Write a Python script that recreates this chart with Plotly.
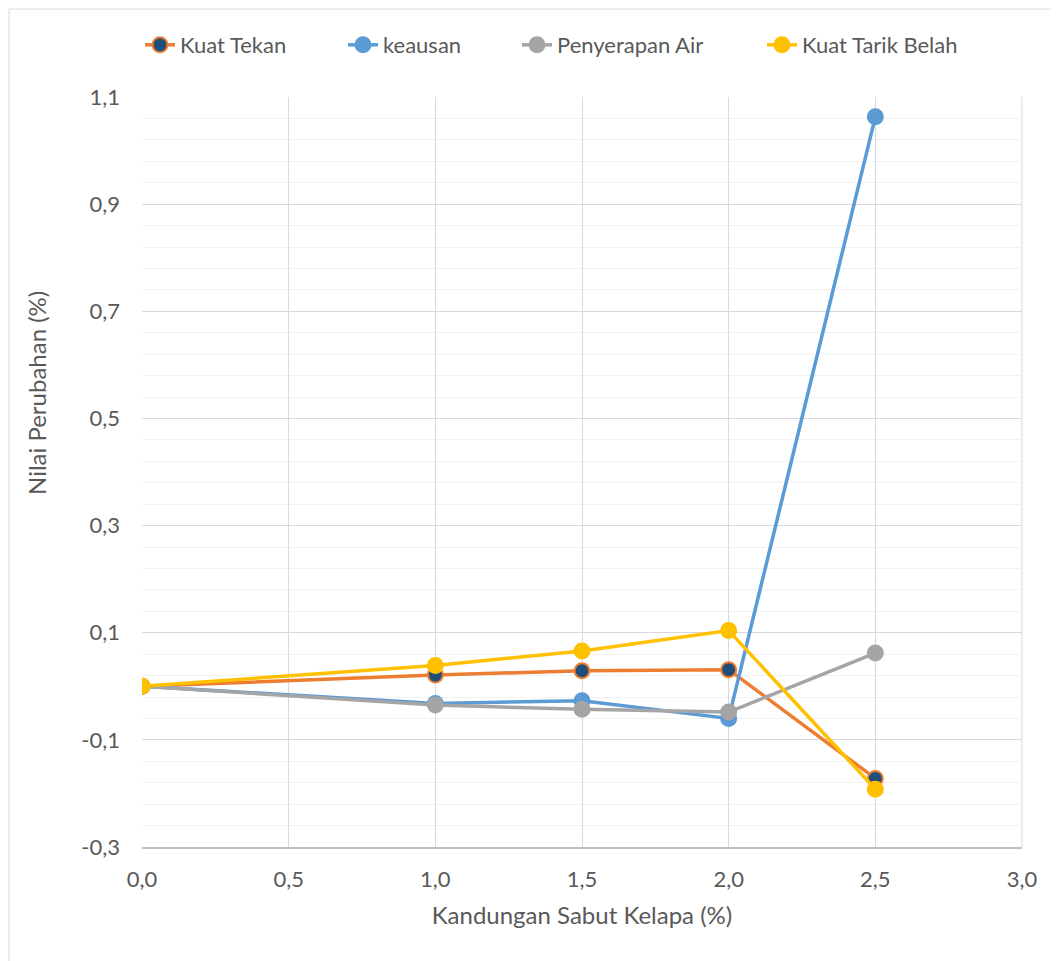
import plotly.graph_objects as go

kandungan = [0.0, 1.0, 1.5, 2.0, 2.5]
kuat_tekan = [0.0, 0.021, 0.029, 0.031, -0.172]
keausan = [0.0, -0.032, -0.027, -0.060, 1.063]
penyerapan_air = [0.0, -0.035, -0.043, -0.048, 0.062]
kuat_tarik_belah = [0.0, 0.039, 0.066, 0.104, -0.192]

x_ticks = [0.0, 0.5, 1.0, 1.5, 2.0, 2.5, 3.0]
y_ticks = [-0.3, -0.1, 0.1, 0.3, 0.5, 0.7, 0.9, 1.1]

series = [
    ("Kuat Tekan", kuat_tekan, "#ED7D31", "#1F4E79"),
    ("keausan", keausan, "#5B9BD5", "#5B9BD5"),
    ("Penyerapan Air", penyerapan_air, "#A5A5A5", "#A5A5A5"),
    ("Kuat Tarik Belah", kuat_tarik_belah, "#FFC000", "#FFC000"),
]
legend_text_px = [184, 387, 561, 806]

FONT = "Lato"
TXT = "#595959"
FS = 22
FT = 24

def lbl(v):
    return f"{v:.1f}".replace(".", ",")

fig = go.Figure()
legend_layout = {}
for i, (name, vals, col, fill) in enumerate(series):
    lname = "legend" if i == 0 else f"legend{i+1}"
    fig.add_trace(go.Scatter(
        x=kandungan, y=vals, name=name, mode="lines+markers",
        line=dict(color=col, width=3.5),
        marker=dict(size=15, color=fill, line=dict(color=col, width=2)),
        legend=lname,
    ))
    legend_layout[lname] = dict(
        orientation="h", x=(legend_text_px[i] - 44 - 142) / 880, xanchor="left",
        y=1.0693, yanchor="middle",
        font=dict(family=FONT, size=FS, color=TXT), bgcolor="rgba(0,0,0,0)",
    )

fig.update_layout(
    width=1051, height=953,
    margin=dict(l=134, r=37, t=89, b=114),
    paper_bgcolor="white", plot_bgcolor="white",
    font=dict(family=FONT, size=FS, color=TXT),
    showlegend=True,
    shapes=[dict(type="rect", xref="paper", yref="paper", x0=-0.1511, x1=1.2, y0=-0.3, y1=1.1173,
                 line=dict(color="#D9D9D9", width=1), fillcolor="rgba(0,0,0,0)", layer="below"),
            dict(type="line", xref="paper", yref="paper", x0=1, x1=1, y0=0, y1=1,
                 line=dict(color="#D9D9D9", width=1), layer="below")],
    annotations=[dict(text="Nilai Perubahan (%)", textangle=-90, xref="paper", yref="paper",
                      x=(36 - 142) / 880, y=(847 - 393) / 750, xanchor="center", yanchor="middle",
                      showarrow=False, font=dict(family=FONT, size=FT, color=TXT))],
    **legend_layout,
)

fig.update_xaxes(
    range=[0, 3.0], tickvals=x_ticks, ticktext=[lbl(v) for v in x_ticks],
    showgrid=True, gridcolor="#D9D9D9", gridwidth=1,
    zeroline=False, showline=True, linecolor="#BFBFBF", linewidth=2,
    ticks="", ticklabelstandoff=12,
    tickfont=dict(family=FONT, size=FS, color=TXT),
    title=dict(text="Kandungan Sabut Kelapa (%)", font=dict(family=FONT, size=FT, color=TXT), standoff=16),
)
fig.update_yaxes(
    range=[-0.3, 1.1], tickvals=y_ticks, ticktext=[lbl(v) for v in y_ticks],
    showgrid=True, gridcolor="#D9D9D9", gridwidth=1,
    minor=dict(tick0=-0.3, dtick=0.04, showgrid=True, gridcolor="#F2F2F2", gridwidth=1),
    zeroline=False, showline=False,
    ticks="", ticklabelstandoff=21,
    tickfont=dict(family=FONT, size=FS, color=TXT),
)

fig.write_html("out.html")
